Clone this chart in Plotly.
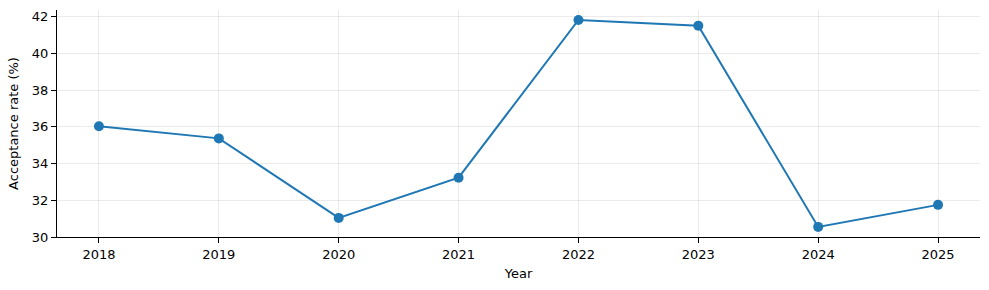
import plotly.graph_objects as go

years = [2018, 2019, 2020, 2021, 2022, 2023, 2024, 2025]
acceptance_rate = [36.03, 35.37, 31.04, 33.23, 41.82, 41.5, 30.55, 31.75]
y_ticks = [30, 32, 34, 36, 38, 40, 42]

fig = go.Figure()
fig.add_trace(go.Scatter(
    x=years, y=acceptance_rate, mode="lines+markers",
    line=dict(color="#1f77b4", width=2),
    marker=dict(color="#1f77b4", size=10),
))

font = dict(family="DejaVu Sans", size=13, color="black")
fig.update_layout(
    width=989, height=290,
    margin=dict(l=57, r=9, t=10, b=53),
    paper_bgcolor="white", plot_bgcolor="white",
    showlegend=False,
    font=font,
    xaxis=dict(
        title=dict(text="Year", font=font, standoff=8),
        range=[2017.65, 2025.35],
        tickmode="array", tickvals=years, ticktext=[str(y) for y in years],
        showline=True, linecolor="black", linewidth=1,
        ticks="outside", ticklen=5, tickcolor="black",
        showgrid=True, gridcolor="rgba(0,0,0,0.08)", gridwidth=1,
        zeroline=False, mirror=False,
    ),
    yaxis=dict(
        title=dict(text="Acceptance rate (%)", font=font, standoff=10),
        range=[30, 42.36],
        tickmode="array", tickvals=y_ticks,
        showline=True, linecolor="black", linewidth=1,
        ticks="outside", ticklen=5, tickcolor="black",
        showgrid=True, gridcolor="rgba(0,0,0,0.08)", gridwidth=1,
        zeroline=False, mirror=False,
    ),
)
fig.write_html("out.html")
